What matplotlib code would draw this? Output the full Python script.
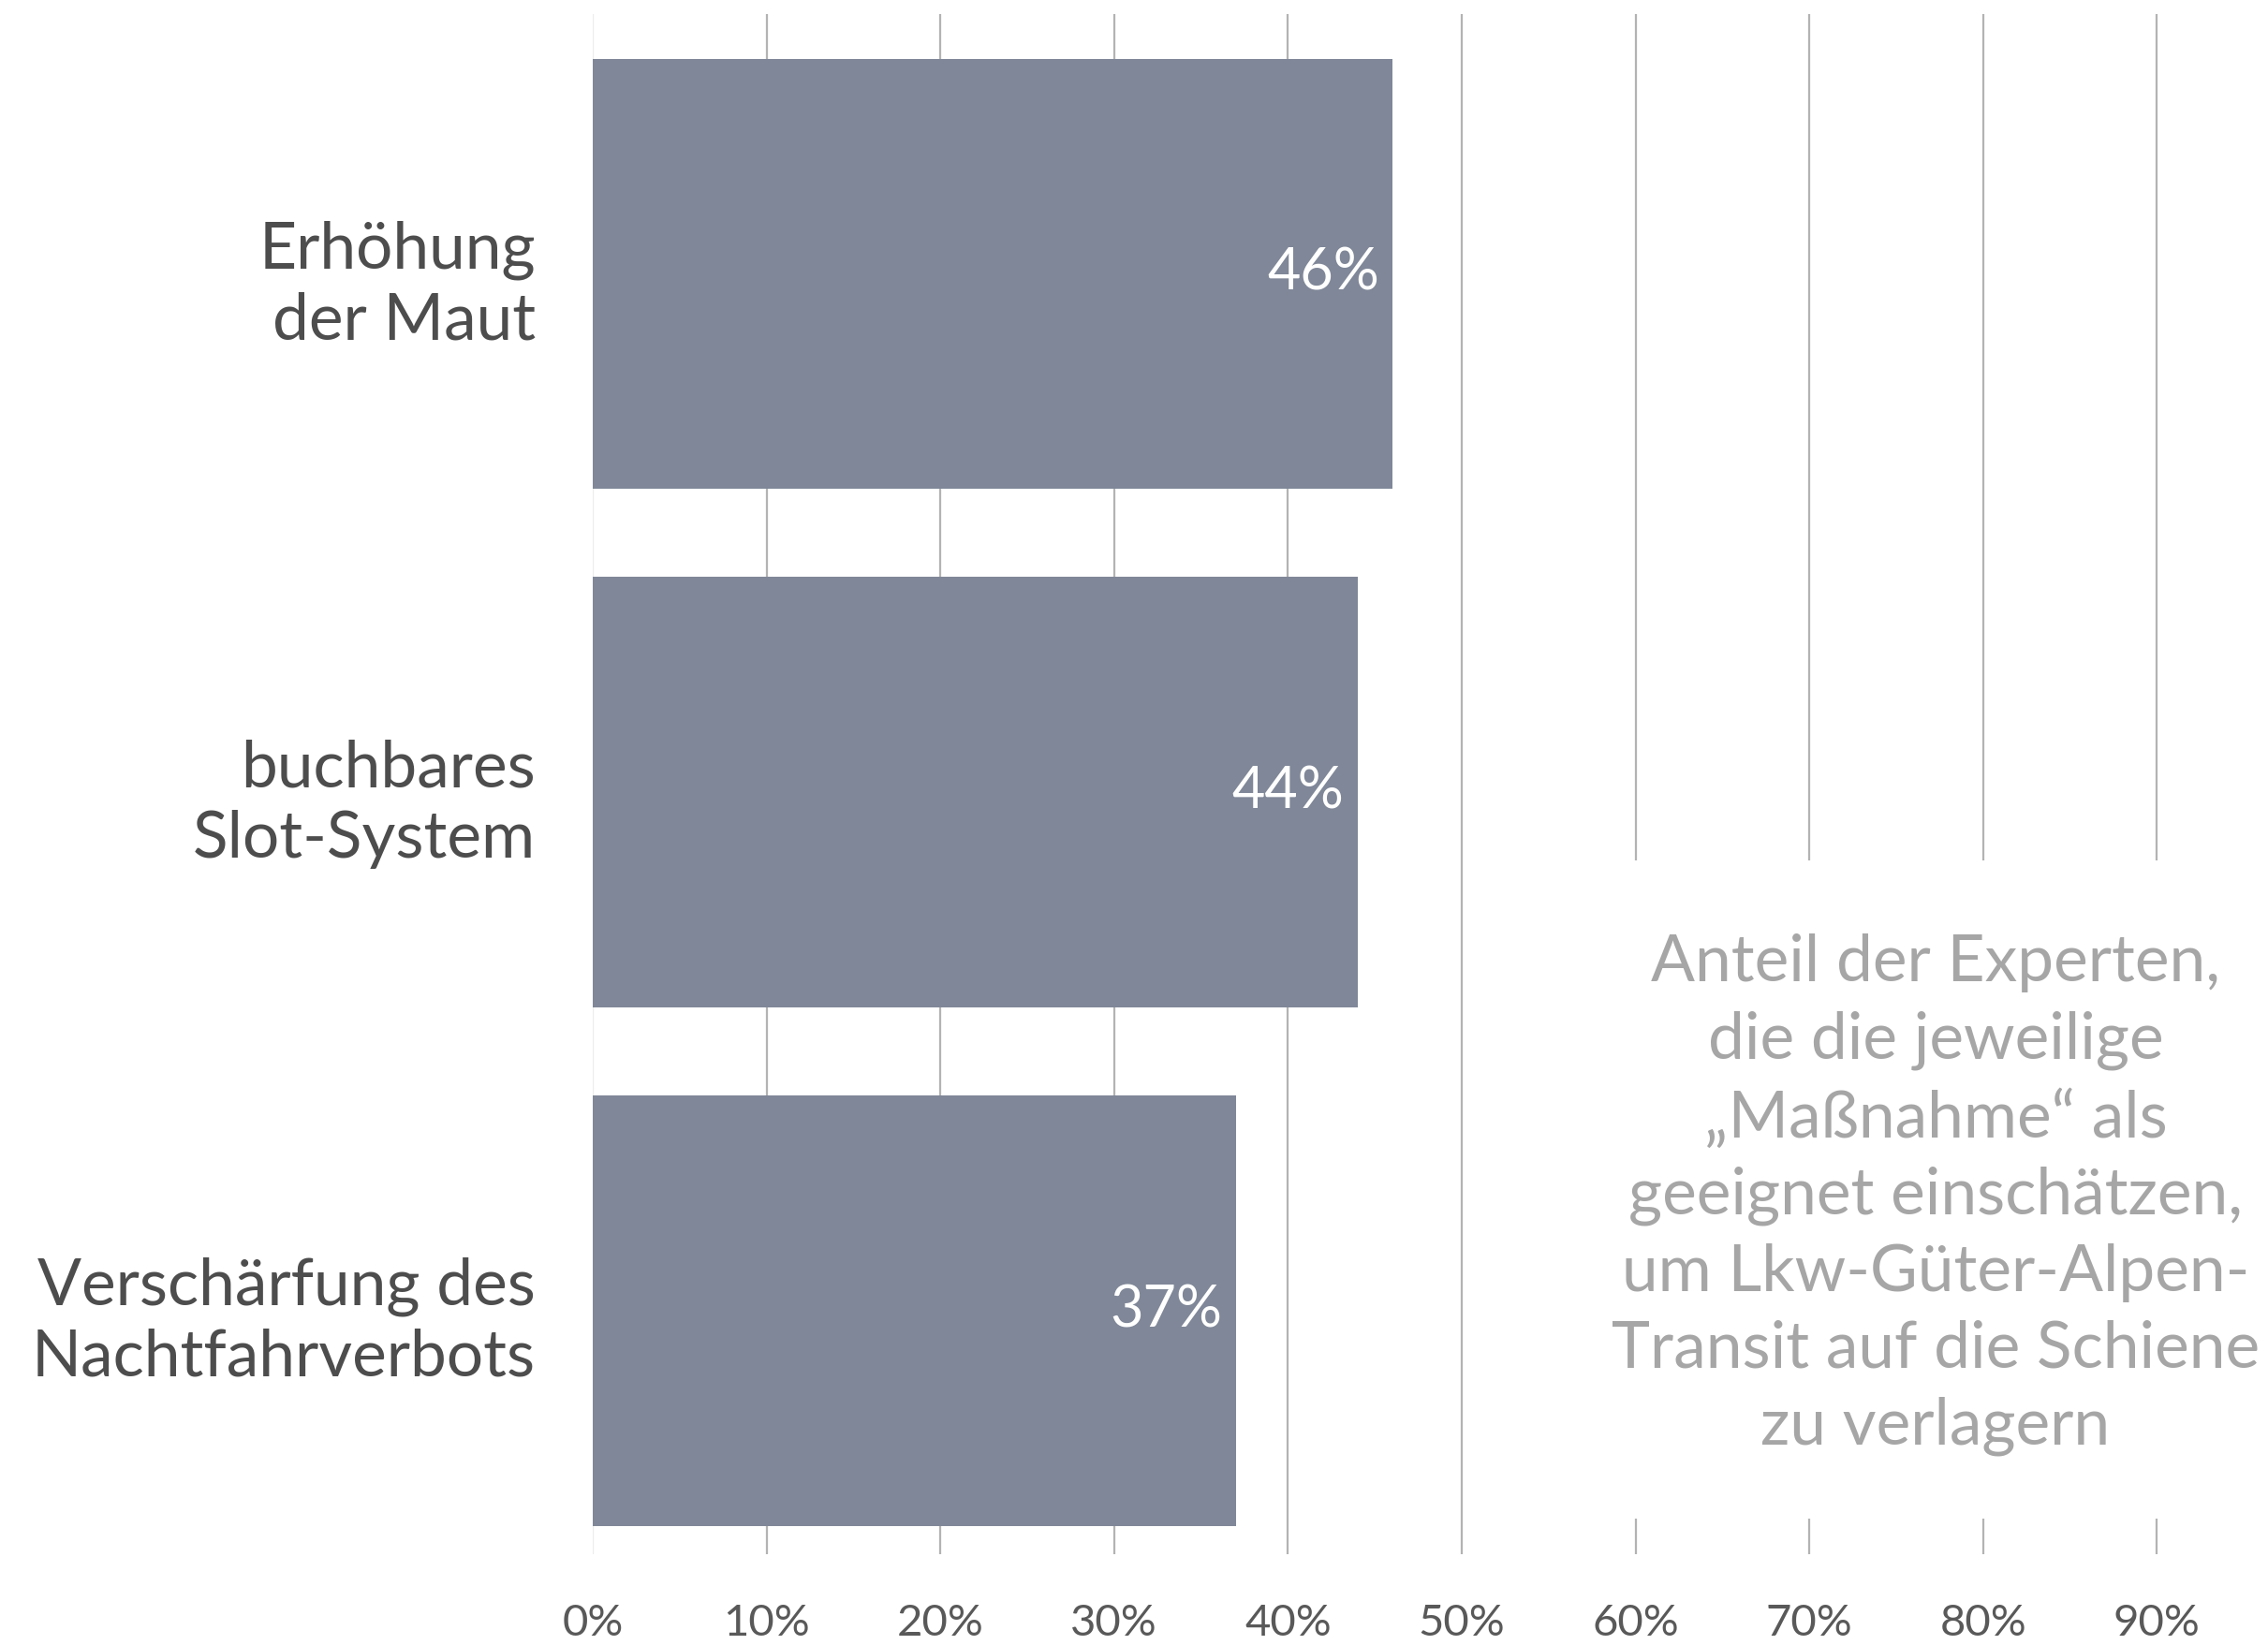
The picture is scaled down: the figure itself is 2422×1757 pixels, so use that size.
import matplotlib.pyplot as plt
from matplotlib.patches import Rectangle
from matplotlib.ticker import FuncFormatter

# data
categories = ['Erhöhung\nder Maut', 'buchbares\nSlot-System', 'Verschärfung des\nNachtfahrverbots']
values = [0.46, 0.44, 0.37]
ticks = [0.0, 0.1, 0.2, 0.3, 0.4, 0.5, 0.6, 0.7, 0.8, 0.9]
note = ('Anteil der Experten,\ndie die jeweilige\n„Maßnahme“ als\ngeeignet einschätzen,\n'
        'um Lkw-Güter-Alpen-\nTransit auf die Schiene\nzu verlagern')

plt.rcParams['font.family'] = ['Lato', 'DejaVu Sans']

fig = plt.figure(figsize=(12.11, 8.785), dpi=200)
ax = fig.add_axes([0.2614, 0.0552, 0.7386, 0.9360])

bar_color = '#7f8798'
pos = range(len(categories))
ax.barh(pos, values, height=0.83, color=bar_color, zorder=3)

# vertical grid lines (0% line much lighter)
for t in ticks:
    ax.axvline(t, color='#ececec' if t == 0 else '#b3b3b3', linewidth=0.8, zorder=1)

# value labels inside bar ends
for i, v in enumerate(values):
    ax.annotate(f'{v * 100:.0f}%', xy=(v, i), xytext=(-5, 0), textcoords='offset points',
                ha='right', va='center', color='white', fontsize=22, zorder=4)

ax.set_xlim(0, 0.964)
ax.set_ylim(2.47, -0.5)
ax.set_xticks(ticks)
ax.xaxis.set_major_formatter(FuncFormatter(lambda x, _: f'{x * 100:.0f}%'))
ax.set_yticks(list(pos))
ax.set_yticklabels(categories, fontsize=25, color='#4d4d4d', linespacing=1.25)
ax.tick_params(axis='x', length=0, pad=19, labelsize=17, labelcolor='#595959')
ax.tick_params(axis='y', length=0, pad=22)
for s in ax.spines.values():
    s.set_visible(False)

# white box behind the note, hiding the grid lines
ax.add_patch(Rectangle((0.587, 1.131), 0.45, 1.271, facecolor='white', edgecolor='none',
                       zorder=2, clip_on=False))
ax.text(0.7727, 1.777, note, ha='center', va='center', fontsize=25, color='#a6a6a6',
        linespacing=1.37, zorder=5)

fig.savefig('out.png', dpi=200)
